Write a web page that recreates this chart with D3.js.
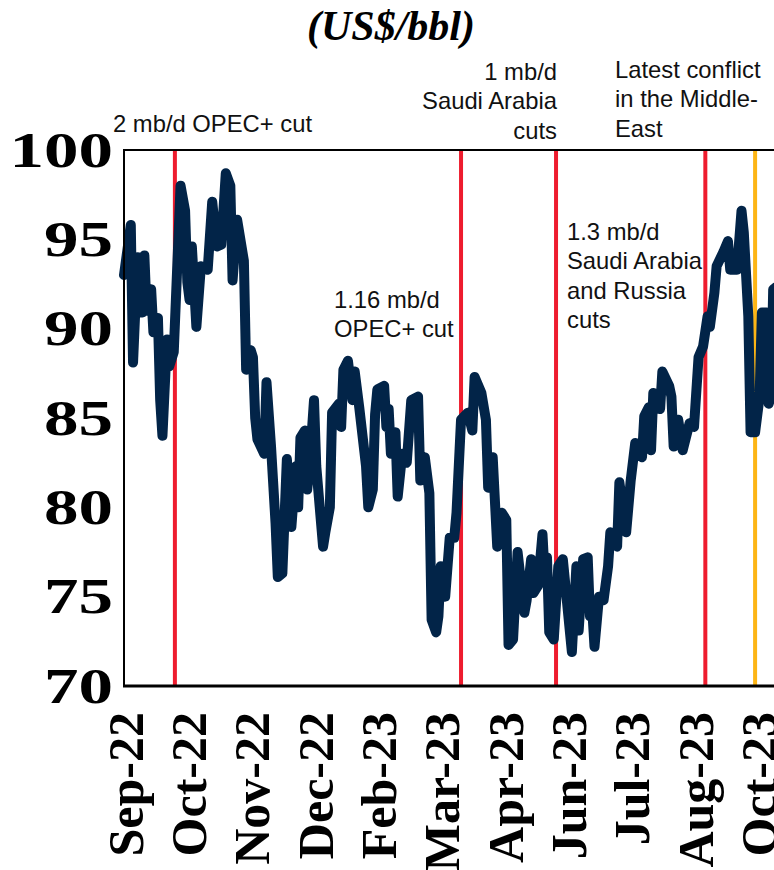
<!DOCTYPE html>
<html>
<head>
<meta charset="utf-8">
<script src="https://cdn.jsdelivr.net/npm/d3@7"></script>
<style>
  html, body { margin: 0; padding: 0; background: #fff; }
  svg { display: block; }
</style>
</head>
<body>
<svg id="chart" width="774" height="870"></svg>
<script>
// Brent crude, trading-day index vs. US$/bbl
const day = [
  0, 3, 4, 6, 8, 9, 10, 12, 13, 15, 16, 17, 19, 20, 22, 25, 27, 28, 29, 30,
  32, 34, 37, 39, 41, 43, 45, 47, 48, 50, 53, 54, 56, 57, 58, 59, 62, 63, 65, 67,
  68, 70, 72, 74, 76, 77, 78, 80, 81, 82, 84, 85, 88, 89, 91, 92, 95, 96, 97, 99,
  101, 102, 104, 107, 108, 110, 111, 112, 115, 116, 117, 118, 120, 121, 123, 125, 127, 130, 131, 133,
  135, 136, 138, 139, 140, 142, 144, 146, 147, 149, 152, 154, 155, 158, 160, 161, 163, 165, 167, 169,
  170, 172, 174, 177, 178, 180, 181, 183, 185, 186, 187, 188, 190, 192, 194, 198, 200, 201, 203, 205,
  206, 207, 208, 210, 212, 214, 215, 218, 219, 222, 224, 226, 229, 230, 232, 233, 234, 237, 238, 241,
  242, 243, 245, 247, 250, 252, 254, 256, 258, 259, 261, 262, 265, 267, 268, 271, 273, 274, 276, 277,
  279, 281, 282, 284, 285, 286, 287, 288
];
const brent = [
  93.0, 95.8, 88.1, 94.0, 90.9, 94.1, 91.0, 92.2, 89.8, 90.6, 86.0, 84.0, 89.4, 87.9, 88.7, 98.0, 96.6, 92.6, 91.6, 94.6,
  90.1, 93.5, 93.3, 97.1, 94.6, 94.7, 98.7, 98.0, 92.7, 96.1, 93.8, 87.7, 88.8, 88.4, 85.0, 83.8, 83.0, 87.0, 83.4, 79.1,
  76.1, 76.3, 82.7, 78.9, 82.3, 80.0, 83.9, 84.3, 81.0, 82.3, 86.0, 82.3, 77.8, 78.6, 80.0, 85.3, 85.8, 84.5, 87.7, 88.2,
  86.0, 87.6, 85.6, 82.3, 80.0, 81.0, 85.2, 86.6, 86.8, 84.5, 85.5, 83.0, 84.2, 80.6, 83.0, 82.5, 86.0, 86.2, 81.5, 82.8,
  80.8, 73.7, 73.0, 73.9, 76.7, 75.0, 78.3, 78.3, 79.7, 84.9, 85.3, 84.3, 87.3, 86.4, 84.9, 81.1, 82.8, 77.8, 79.7, 79.3,
  72.3, 72.6, 77.5, 74.1, 74.8, 77.1, 75.2, 75.6, 78.5, 76.1, 77.2, 73.0, 72.6, 76.7, 77.1, 71.9, 76.7, 73.1, 77.1, 77.2,
  73.9, 74.3, 72.2, 75.0, 74.8, 76.7, 78.6, 77.8, 81.4, 78.6, 81.5, 83.6, 82.8, 85.1, 85.6, 83.2, 86.4, 85.5, 87.6, 86.8,
  86.2, 83.4, 84.9, 83.2, 84.7, 84.5, 88.4, 89.0, 90.7, 90.1, 92.0, 93.5, 94.3, 94.9, 93.3, 93.3, 96.6, 95.4, 90.7, 84.2,
  84.2, 86.2, 90.9, 90.9, 85.8, 86.2, 92.2, 92.3
];

// Category labels shown every 28 trading days
const monthLabels = ["Sep-22", "Oct-22", "Nov-22", "Dec-22", "Feb-23", "Mar-23",
                     "Apr-23", "Jun-23", "Jul-23", "Aug-23", "Oct-23"];
const labelStep = 28;
const yTicks = [70, 75, 80, 85, 90, 95, 100];

// Supply decisions and the conflict, by trading-day index
const eventDays = [22.5, 149, 191, 257, 279];
const eventKinds = ["supply", "supply", "supply", "supply", "conflict"];
const eventNotes = [
  ["2 mb/d OPEC+ cut"],
  ["1.16 mb/d", "OPEC+ cut"],
  ["1 mb/d", "Saudi Arabia", "cuts"],
  ["1.3 mb/d", "Saudi Arabia", "and Russia", "cuts"],
  ["Latest conflict", "in the Middle-", "East"]
];

const svg = d3.select("#chart");
const plotLeft = 124, plotTop = 150, plotBottom = 686;
const perDay = 2.262;
const maxDay = 292;

const x = d3.scaleLinear().domain([0, maxDay]).range([plotLeft, plotLeft + maxDay * perDay]);
const y = d3.scaleLinear().domain([70, 100]).range([plotBottom, plotTop]);

const serif = "'Liberation Serif', 'Times New Roman', serif";
const sans = "'Liberation Sans', Arial, sans-serif";

// Title
svg.append("text")
  .attr("x", 391).attr("y", 40)
  .attr("text-anchor", "middle")
  .attr("font-family", serif)
  .attr("font-weight", "bold")
  .attr("font-style", "italic")
  .attr("font-size", 42)
  .text("(US$/bbl)");

// Event markers
const eventColor = k => k === "conflict" ? "#fdb515" : "#ee1c2e";
svg.append("g").selectAll("line")
  .data(eventDays)
  .join("line")
  .attr("x1", d => x(d)).attr("x2", d => x(d))
  .attr("y1", y(100)).attr("y2", y(70))
  .attr("stroke", (d, i) => eventColor(eventKinds[i]))
  .attr("stroke-width", 4);

// Price line
const line = d3.line()
  .x((d, i) => x(day[i]))
  .y(d => y(d));

svg.append("path")
  .datum(brent)
  .attr("fill", "none")
  .attr("stroke", "#022448")
  .attr("stroke-width", 10)
  .attr("stroke-linejoin", "round")
  .attr("stroke-linecap", "round")
  .attr("d", line);

// Frame: left, top and bottom edges of the plot
const frame = svg.append("g").attr("stroke", "#000").attr("fill", "none");
frame.append("line").attr("x1", plotLeft).attr("x2", 774).attr("y1", plotTop).attr("y2", plotTop).attr("stroke-width", 2);
frame.append("line").attr("x1", plotLeft).attr("x2", plotLeft).attr("y1", plotTop - 1).attr("y2", plotBottom + 1).attr("stroke-width", 2);
frame.append("line").attr("x1", plotLeft - 1).attr("x2", 774).attr("y1", plotBottom).attr("y2", plotBottom).attr("stroke-width", 3);

// Y axis labels (wide bold numerals)
const yAxis = d3.axisLeft(y).tickValues(yTicks).tickSize(0).tickPadding(11);
const gy = svg.append("g").attr("transform", `translate(${plotLeft},0)`).call(yAxis);
gy.select(".domain").remove();
gy.selectAll("text")
  .attr("font-family", serif)
  .attr("font-weight", "bold")
  .attr("font-size", 50)
  .attr("fill", "#000")
  .attr("x", 0)
  .attr("transform", "translate(-11,0) scale(1.38,1)");

// X axis labels, rotated
const xTickDays = monthLabels.map((m, i) => i * labelStep);
const xAxis = d3.axisBottom(x).tickValues(xTickDays)
  .tickFormat((d, i) => monthLabels[i]).tickSize(0);
const gx = svg.append("g").attr("transform", `translate(0,${plotBottom})`).call(xAxis);
gx.select(".domain").remove();
gx.selectAll("text")
  .attr("font-family", serif)
  .attr("font-weight", "bold")
  .attr("font-size", 50)
  .attr("fill", "#000")
  .attr("text-anchor", "end")
  .attr("transform", "rotate(-90)")
  .attr("x", -26)
  .attr("y", 0)
  .attr("dy", "0.36em");

// Event notes
const noteLayout = [
  { x: 113, y: 132, anchor: "start" },
  { x: 334, y: 308, anchor: "start" },
  { x: 557, y: 80, anchor: "end" },
  { x: 567, y: 240, anchor: "start" },
  { x: 615, y: 78, anchor: "start" }
];
const lineGap = 29.3;
eventNotes.forEach((lines, i) => {
  const t = svg.append("text")
    .attr("font-family", sans)
    .attr("font-size", 23.8)
    .attr("fill", "#111")
    .attr("text-anchor", noteLayout[i].anchor);
  lines.forEach((s, j) => {
    t.append("tspan")
      .attr("x", noteLayout[i].x)
      .attr("y", noteLayout[i].y + j * lineGap)
      .text(s);
  });
});
</script>
</body>
</html>
